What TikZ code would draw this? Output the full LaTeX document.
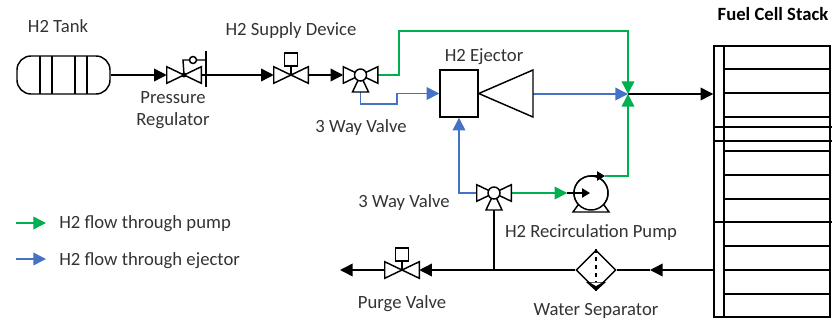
\documentclass[tikz,border=0pt]{standalone}
\usepackage{fontspec}
\setmainfont{Carlito}
\usetikzlibrary{arrows.meta,shapes.geometric,calc}
\definecolor{flowgreen}{HTML}{00B050}
\definecolor{flowblue}{HTML}{4472C4}
\tikzset{
  part/.style={draw=black,line width=1.1pt,fill=white},
  valve/.style={minimum width=25.5pt,minimum height=12pt,inner sep=0pt},
  blackline/.style={draw=black,line width=1.1pt},
  tip/.style={-{Triangle[length=9.5pt,width=9.5pt]}},
  lab/.style={font=\fontsize{14}{16}\selectfont,text=black!80,inner sep=0pt,text height=10pt,text depth=3pt}
}
\begin{document}
\begin{tikzpicture}[x=0.75pt,y=-0.75pt]
\useasboundingbox (0,0) rectangle (832,322);
% valves and ports
\begin{scope}[every node/.style={valve}]
    \node (V1) at (184,75) {};
    \node (V2) at (291,75) {};
    \node (V3) at (402,270) {};
    \node (W1) at (360.5,75) {};
    \node (W2) at (494,193) {};
\end{scope}
\coordinate (W1b) at (360.5,92);
\coordinate (W2b) at (494,209);
\coordinate (J1) at (628,94);
\coordinate (J2) at (494,270);
\coordinate (R1) at (206,75);
\coordinate (G1) at (399,31);
\coordinate (G2) at (628,31);
\coordinate (B1) at (360.5,104);
\coordinate (B2) at (397,104);
\coordinate (B3) at (459,193);
\coordinate (P1) at (605,176);
\coordinate (P2) at (628,176);
\coordinate (O1) at (340,270);
\coordinate (S1) at (650,270);
% main parts
\node [part,rounded corners=10.5pt,minimum width=69.75pt,minimum height=28.5pt,inner sep=0pt] (TK) at (63.5,75) {};
\node [part,minimum width=28.5pt,minimum height=35.25pt,inner sep=0pt] (EJ) at (459,93.5) {};
\node [part,minimum width=87pt,minimum height=203.25pt,inner sep=0pt] (FC) at (772,181.5) {};
\node [part,circle,minimum size=25.5pt,inner sep=0pt] (PM) at (591,193) {};
\node [part,diamond,minimum width=30pt,minimum height=30pt,inner sep=0pt] (WS) at (596,270) {};
\coordinate (EO) at (533,94);
% flow lines
\begin{scope}[line width=1.1pt,draw=black]
    \draw [tip] (TK.east) -- (V1.west);
    \draw (V1.center) -- (R1);
    \draw [tip] (R1) -- (V2.west);
    \draw [tip] (V2.east) -- (W1.west);
    \draw [tip] (J1) -- (FC.west |- J1);
    \draw (W2b) -- (J2);
    \draw [tip] (FC.west |- WS) -- (S1);
    \draw (S1) -- (WS.east);
    \draw [tip] (WS.west) -- (V3.east);
    \draw [tip] (V3.west) -- (O1);
\end{scope}
\begin{scope}[line width=1.1pt,draw=flowgreen]
    \draw [tip,flowgreen] (W1.east) -| (G1) -- (G2) -- (J1);
    \draw [tip,flowgreen] (P1) -- (P2) -- (J1);
    \draw [tip,flowgreen] (W2.east) -- ++(56,0);
    \draw [tip,flowgreen] (16,223) -- (46,223);
\end{scope}
\begin{scope}[line width=1.1pt,draw=flowblue]
    \draw [tip,flowblue] (W1b) -- (B1) -- (B2) |- (EJ.west);
    \draw [tip,flowblue] (EO) -- (J1);
    \draw [tip,flowblue] (W2.west) -| (B3) -- (EJ.south);
    \draw [tip,flowblue] (16,259) -- (46,259);
\end{scope}
% valve bodies
\foreach \v in {V1,V2,V3,W1,W2}
    \draw [part] (\v.north west) -- (\v.south east) -- (\v.north east) -- (\v.south west) -- cycle;
\foreach \v in {W1,W2} {
    \draw [part] (\v.center) -- ++(-8,17) -- ++(16,0) -- cycle;
    \draw [part] (\v.center) circle (6);
}
% actuators
\foreach \v in {V2,V3} {
    \draw [blackline] (\v.center) -- ++(0,-9);
    \draw [part] ($(\v.center)+(-6.5,-22)$) rectangle ++(13,13);
}
\draw [blackline] (V1.center) -- (183,60) -- (R1 |- 0,60);
\draw [part] (193,60) circle (3.5);
\draw [blackline] (R1 |- 0,51) -- (R1 |- 0,87);
\fill (V1.center) circle (2.5);
% tank
\foreach \x in {40,52,75,87}
    \draw [blackline] (\x,56) -- (\x,94);
% ejector cone
\draw [part] (EJ.east) -- (533,70) -- (533,117) -- cycle;
% stack
\draw [blackline] (724,46) -- (724,317);
\foreach \y in {69,93,117,151,175,199,246,270,294}
    \draw [blackline] (724,\y) -- (830,\y);
\foreach \y in {127,141,222}
    \draw [blackline] (714,\y) -- (832,\y);
% pump
\draw [part] (578,205) -- (573,212) -- (609,212) -- (604,205) -- cycle;
\draw [part] (PM.center) circle (17);
\draw [line width=1.1pt,-{Triangle[length=6pt,width=7pt]}] (567,193) -- (590,193);
\draw [line width=1.1pt,-{Triangle[length=6pt,width=7pt]}] (591,176) -- (P1);
% separator
\draw [line width=1.1pt,dashed] (WS.north) -- (WS.south);
\fill (596,291) -- (586,282) -- (606,282) -- cycle;
\fill [white] (596,286) -- (590,282.5) -- (602,282.5) -- cycle;
% labels
\begin{scope}[every node/.style={lab}]
    \node (L1) at (58,28) {H2 Tank};
    \node (L2) at (291,31) {H2 Supply Device};
    \node (L3) at (173,99) {Pressure};
    \node (L13) at (173,121) {Regulator};
    \node (L4) at (361,128) {3 Way Valve};
    \node (L5) at (484,57) {H2 Ejector};
    \node (L6) at (404,203) {3 Way Valve};
    \node (L7) at (591,233) {H2 Recirculation Pump};
    \node (L8) at (402,304) {Purge Valve};
    \node (L9) at (596,311) {Water Separator};
    \node [anchor=west] (L10) at (59,224) {H2 flow through pump};
    \node [anchor=west] (L11) at (59,261) {H2 flow through ejector};
    \node [font=\fontsize{14}{16}\selectfont\bfseries,text=black] (L12) at (773,16) {Fuel Cell Stack};
\end{scope}
\end{tikzpicture}
\end{document}
